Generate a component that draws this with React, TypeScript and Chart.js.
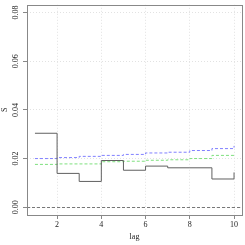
import React, { useEffect, useRef } from "react";
import { Chart, registerables } from "chart.js";

Chart.register(...registerables);

const lags = [1, 2, 3, 4, 5, 6, 7, 8, 9, 10];
const sObserved = [0.0304, 0.0139, 0.0106, 0.0192, 0.0152, 0.0169, 0.0162, 0.0162, 0.0116, 0.0143];
const sUpper = [0.0200, 0.0204, 0.0209, 0.0213, 0.0217, 0.0223, 0.0226, 0.0233, 0.0241, 0.0252];
const sMean = [0.0176, 0.0178, 0.0178, 0.0187, 0.0189, 0.0193, 0.0195, 0.0200, 0.0213, 0.0213];
const xTicks = [2, 4, 6, 8, 10];
const yTicks = [0, 0.02, 0.04, 0.06, 0.08];
const xLimits = [0.64, 10.36];
const yLimits = [-0.0032, 0.0832];
const refLineValue = 0;

const FONT = "'Liberation Serif', 'DejaVu Serif', serif";

const boxPlugin = {
  id: "boxAndRef",
  beforeDatasetsDraw(chart: any) {
    const { ctx, chartArea, scales } = chart;
    const y0 = Math.round(scales.y.getPixelForValue(refLineValue)) + 0.5;
    ctx.save();
    ctx.strokeStyle = "#777";
    ctx.lineWidth = 1;
    ctx.setLineDash([3, 2]);
    ctx.beginPath();
    ctx.moveTo(chartArea.left, y0);
    ctx.lineTo(chartArea.right, y0);
    ctx.stroke();
    ctx.restore();
  },
  afterDraw(chart: any) {
    const { ctx, chartArea } = chart;
    ctx.save();
    ctx.strokeStyle = "#888";
    ctx.lineWidth = 1;
    ctx.strokeRect(
      Math.round(chartArea.left) + 0.5,
      Math.round(chartArea.top) + 0.5,
      Math.round(chartArea.right - chartArea.left),
      Math.round(chartArea.bottom - chartArea.top)
    );
    ctx.restore();
  },
};

const gridOpts = {
  color: "#e2e2e2",
  tickColor: "#888",
  tickBorderDash: [],
  tickLength: 4,
  drawTicks: true,
};

export default function App() {
  const ref = useRef<HTMLCanvasElement | null>(null);
  useEffect(() => {
    document.body.style.margin = "0";
    const canvas = ref.current;
    if (!canvas) return;
    const mk = (arr: number[]) => lags.map((x, i) => ({ x, y: arr[i] }));
    const chart = new Chart(canvas, {
      type: "line",
      data: {
        datasets: [
          {
            data: mk(sObserved),
            borderColor: "#606060",
            borderWidth: 1,
            stepped: "before",
            pointRadius: 0,
            fill: false,
          },
          {
            data: mk(sUpper),
            borderColor: "#8080ff",
            borderWidth: 1,
            borderDash: [3, 2],
            stepped: "before",
            pointRadius: 0,
            fill: false,
          },
          {
            data: mk(sMean),
            borderColor: "#7ee07e",
            borderWidth: 1,
            borderDash: [3, 2],
            stepped: "before",
            pointRadius: 0,
            fill: false,
          },
        ],
      },
      options: {
        animation: false,
        responsive: false,
        maintainAspectRatio: false,
        layout: { padding: { left: 0, top: 4, right: 3, bottom: 0 } },
        plugins: { legend: { display: false }, tooltip: { enabled: false } },
        scales: {
          x: {
            type: "linear",
            min: xLimits[0],
            max: xLimits[1],
            afterBuildTicks: (s: any) => {
              s.ticks = xTicks.map((v) => ({ value: v }));
            },
            afterFit: (s: any) => {
              s.height = 30;
            },
            ticks: {
              color: "#222",
              font: { family: FONT, size: 8 },
              padding: 1,
              maxRotation: 0,
              callback: (v: any) => String(v),
            },
            grid: gridOpts as any,
            border: { display: false, dash: [1, 2] },
            title: {
              display: true,
              text: "lag",
              color: "#222",
              font: { family: FONT, size: 8 },
              padding: { top: 0, bottom: 3 },
            },
          },
          y: {
            type: "linear",
            min: yLimits[0],
            max: yLimits[1],
            afterBuildTicks: (s: any) => {
              s.ticks = yTicks.map((v) => ({ value: v }));
            },
            afterFit: (s: any) => {
              s.width = 27;
            },
            ticks: {
              color: "#222",
              font: { family: FONT, size: 8 },
              padding: 0,
              minRotation: 90,
              maxRotation: 90,
              crossAlign: "center",
              callback: (v: any) => Number(v).toFixed(2),
            },
            grid: gridOpts as any,
            border: { display: false, dash: [1, 2] },
            title: {
              display: true,
              text: "S",
              color: "#222",
              font: { family: FONT, size: 8 },
              padding: { top: 0, bottom: 0 },
            },
          },
        },
      },
      plugins: [boxPlugin],
    } as any);
    return () => chart.destroy();
  }, []);
  return <canvas ref={ref} width={245} height={245} style={{ display: "block", width: 245, height: 245 }} />;
}
